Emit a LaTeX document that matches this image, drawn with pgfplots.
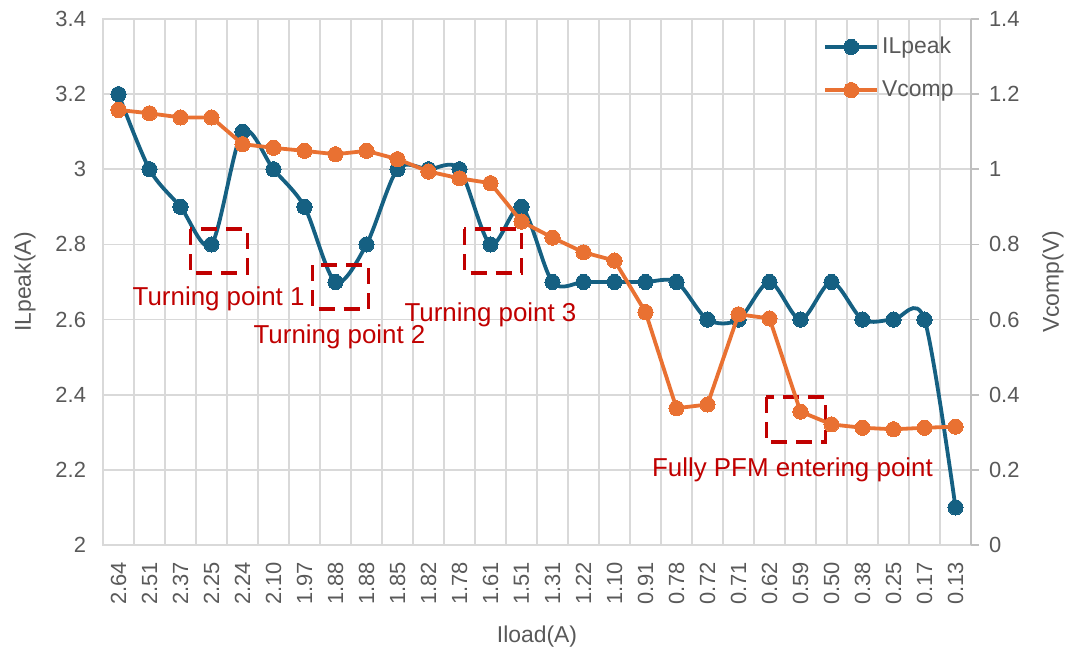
\documentclass[border=0pt]{standalone}
\usepackage{pgfplots}
\pgfplotsset{compat=1.18}
\usepackage{fontspec}
\setmainfont{Liberation Sans}
\definecolor{ilblue}{HTML}{156082}
\definecolor{vorange}{HTML}{E97132}
\definecolor{txtgray}{HTML}{595959}
\definecolor{gridgray}{HTML}{D9D9D9}
\definecolor{axgray}{HTML}{BFBFBF}
\definecolor{annred}{HTML}{C00000}

\pgfplotstableread{
x il
0 3.2
1 3.0
2 2.9
3 2.8
4 3.1
5 3.0
6 2.9
7 2.7
8 2.8
9 3.0
10 3.0
11 3.0
12 2.8
13 2.9
14 2.7
15 2.7
16 2.7
17 2.7
18 2.7
19 2.6
20 2.6
21 2.7
22 2.6
23 2.7
24 2.6
25 2.6
26 2.6
27 2.1
}\iltable

\pgfplotstableread{
x v
0 1.158
1 1.149
2 1.138
3 1.138
4 1.067
5 1.057
6 1.049
7 1.040
8 1.049
9 1.027
10 0.994
11 0.976
12 0.963
13 0.861
14 0.818
15 0.779
16 0.757
17 0.620
18 0.364
19 0.374
20 0.614
21 0.603
22 0.355
23 0.321
24 0.312
25 0.308
26 0.312
27 0.315
}\vtable

\begin{document}
\begin{tikzpicture}
\pgfplotsset{
  common/.style={
    width=434bp, height=263bp, scale only axis,
    xmin=-0.5, xmax=27.5,
    at={(0,0)}, anchor=south west,
    ticklabel style={font=\fontsize{11}{13}\selectfont, text=txtgray},
    label style={font=\fontsize{11.5}{13}\selectfont, text=txtgray},
    /pgf/number format/assume math mode=true,
    clip=false,
  },
  ilstyle/.style={ilblue, line width=1.9bp, mark=*, mark size=3.8bp, mark options={fill=ilblue, draw=ilblue, line width=0pt}},
  vstyle/.style={vorange, line width=1.9bp, mark=*, mark size=3.8bp, mark options={fill=vorange, draw=vorange, line width=0pt}},
}
\begin{axis}[common,
  ymin=2, ymax=3.4, ytick={2,2.2,2.4,2.6,2.8,3,3.2,3.4},
  xtick={0,...,27},
  xticklabels={2.64,2.51,2.37,2.25,2.24,2.10,1.97,1.88,1.88,1.85,1.82,1.78,1.61,1.51,1.31,1.22,1.10,0.91,0.78,0.72,0.71,0.62,0.59,0.50,0.38,0.25,0.17,0.13},
  minor xtick={-0.5,0.5,...,27.5},
  xminorgrids=true, ymajorgrids=true,
  grid style={gridgray, line width=0.8bp},
  minor grid style={gridgray, line width=0.8bp},
  axis line style={gridgray, line width=0.8bp},
  major tick length=0pt, minor tick length=0pt,
  xticklabel style={rotate=90, anchor=east, yshift=0bp, xshift=-5bp},
  yticklabel style={xshift=-5bp},
  xlabel={Iload(A)},
  ylabel={ILpeak(A)},
  xlabel style={at={(axis description cs:0.5,-0.175)}, anchor=center},
  ylabel style={at={(axis description cs:-0.0899,0.5)}, anchor=center},
  legend style={at={(rel axis cs:0.8295,0.972)}, anchor=north west, draw=none, fill=none,
    font=\fontsize{11.5}{13}\selectfont, text=txtgray, row sep=9bp, inner sep=0pt,
    nodes={inner sep=1.5bp}},
  legend cell align=left,
  legend image code/.code={\draw[mark repeat=2,mark phase=2,#1] plot coordinates {(0bp,0bp) (13bp,0bp) (26bp,0bp)};},
]
\addplot[ilstyle, smooth, tension=0.5] table[x=x,y=il] {\iltable};
\addlegendentry{ILpeak}
\addlegendimage{vstyle}
\addlegendentry{Vcomp}

\tikzset{annbox/.style={annred, line width=1.7bp, dash pattern=on 8bp off 4.5bp}}
\draw[annbox] (axis cs:2.32,2.841) rectangle (axis cs:4.16,2.724);
\draw[annbox] (axis cs:6.26,2.745) rectangle (axis cs:8.06,2.628);
\draw[annbox] (axis cs:11.16,2.841) rectangle (axis cs:13.0,2.724);
\draw[annbox] (axis cs:20.9,2.394) rectangle (axis cs:22.8,2.274);
\node[text=annred, font=\fontsize{13}{15}\selectfont, anchor=center] at (axis cs:3.23,2.654) {Turning point 1};
\node[text=annred, font=\fontsize{13}{15}\selectfont, anchor=center] at (axis cs:7.13,2.553) {Turning point 2};
\node[text=annred, font=\fontsize{13}{15}\selectfont, anchor=center] at (axis cs:12.0,2.614) {Turning point 3};
\node[text=annred, font=\fontsize{13}{15}\selectfont, anchor=center] at (axis cs:21.74,2.2) {Fully PFM entering point};
\end{axis}

\begin{axis}[common,
  ymin=0, ymax=1.4, ytick={0,0.2,0.4,0.6,0.8,1,1.2,1.4},
  axis y line*=right, axis x line=none,
  y axis line style={axgray, line width=0.8bp, -},
  tick align=outside, major tick length=4bp,
  ytick style={axgray, line width=0.8bp},
  yticklabel style={xshift=1.5bp},
  ylabel={Vcomp(V)},
  ylabel style={at={(axis description cs:1.0945,0.5)}, anchor=center, rotate=0},
]
\addplot[vstyle] table[x=x,y=v] {\vtable};
\end{axis}
\pgfresetboundingbox
\path[use as bounding box] (-51.5bp,-57bp) rectangle (484.5bp,272.5bp);
\end{tikzpicture}
\end{document}
